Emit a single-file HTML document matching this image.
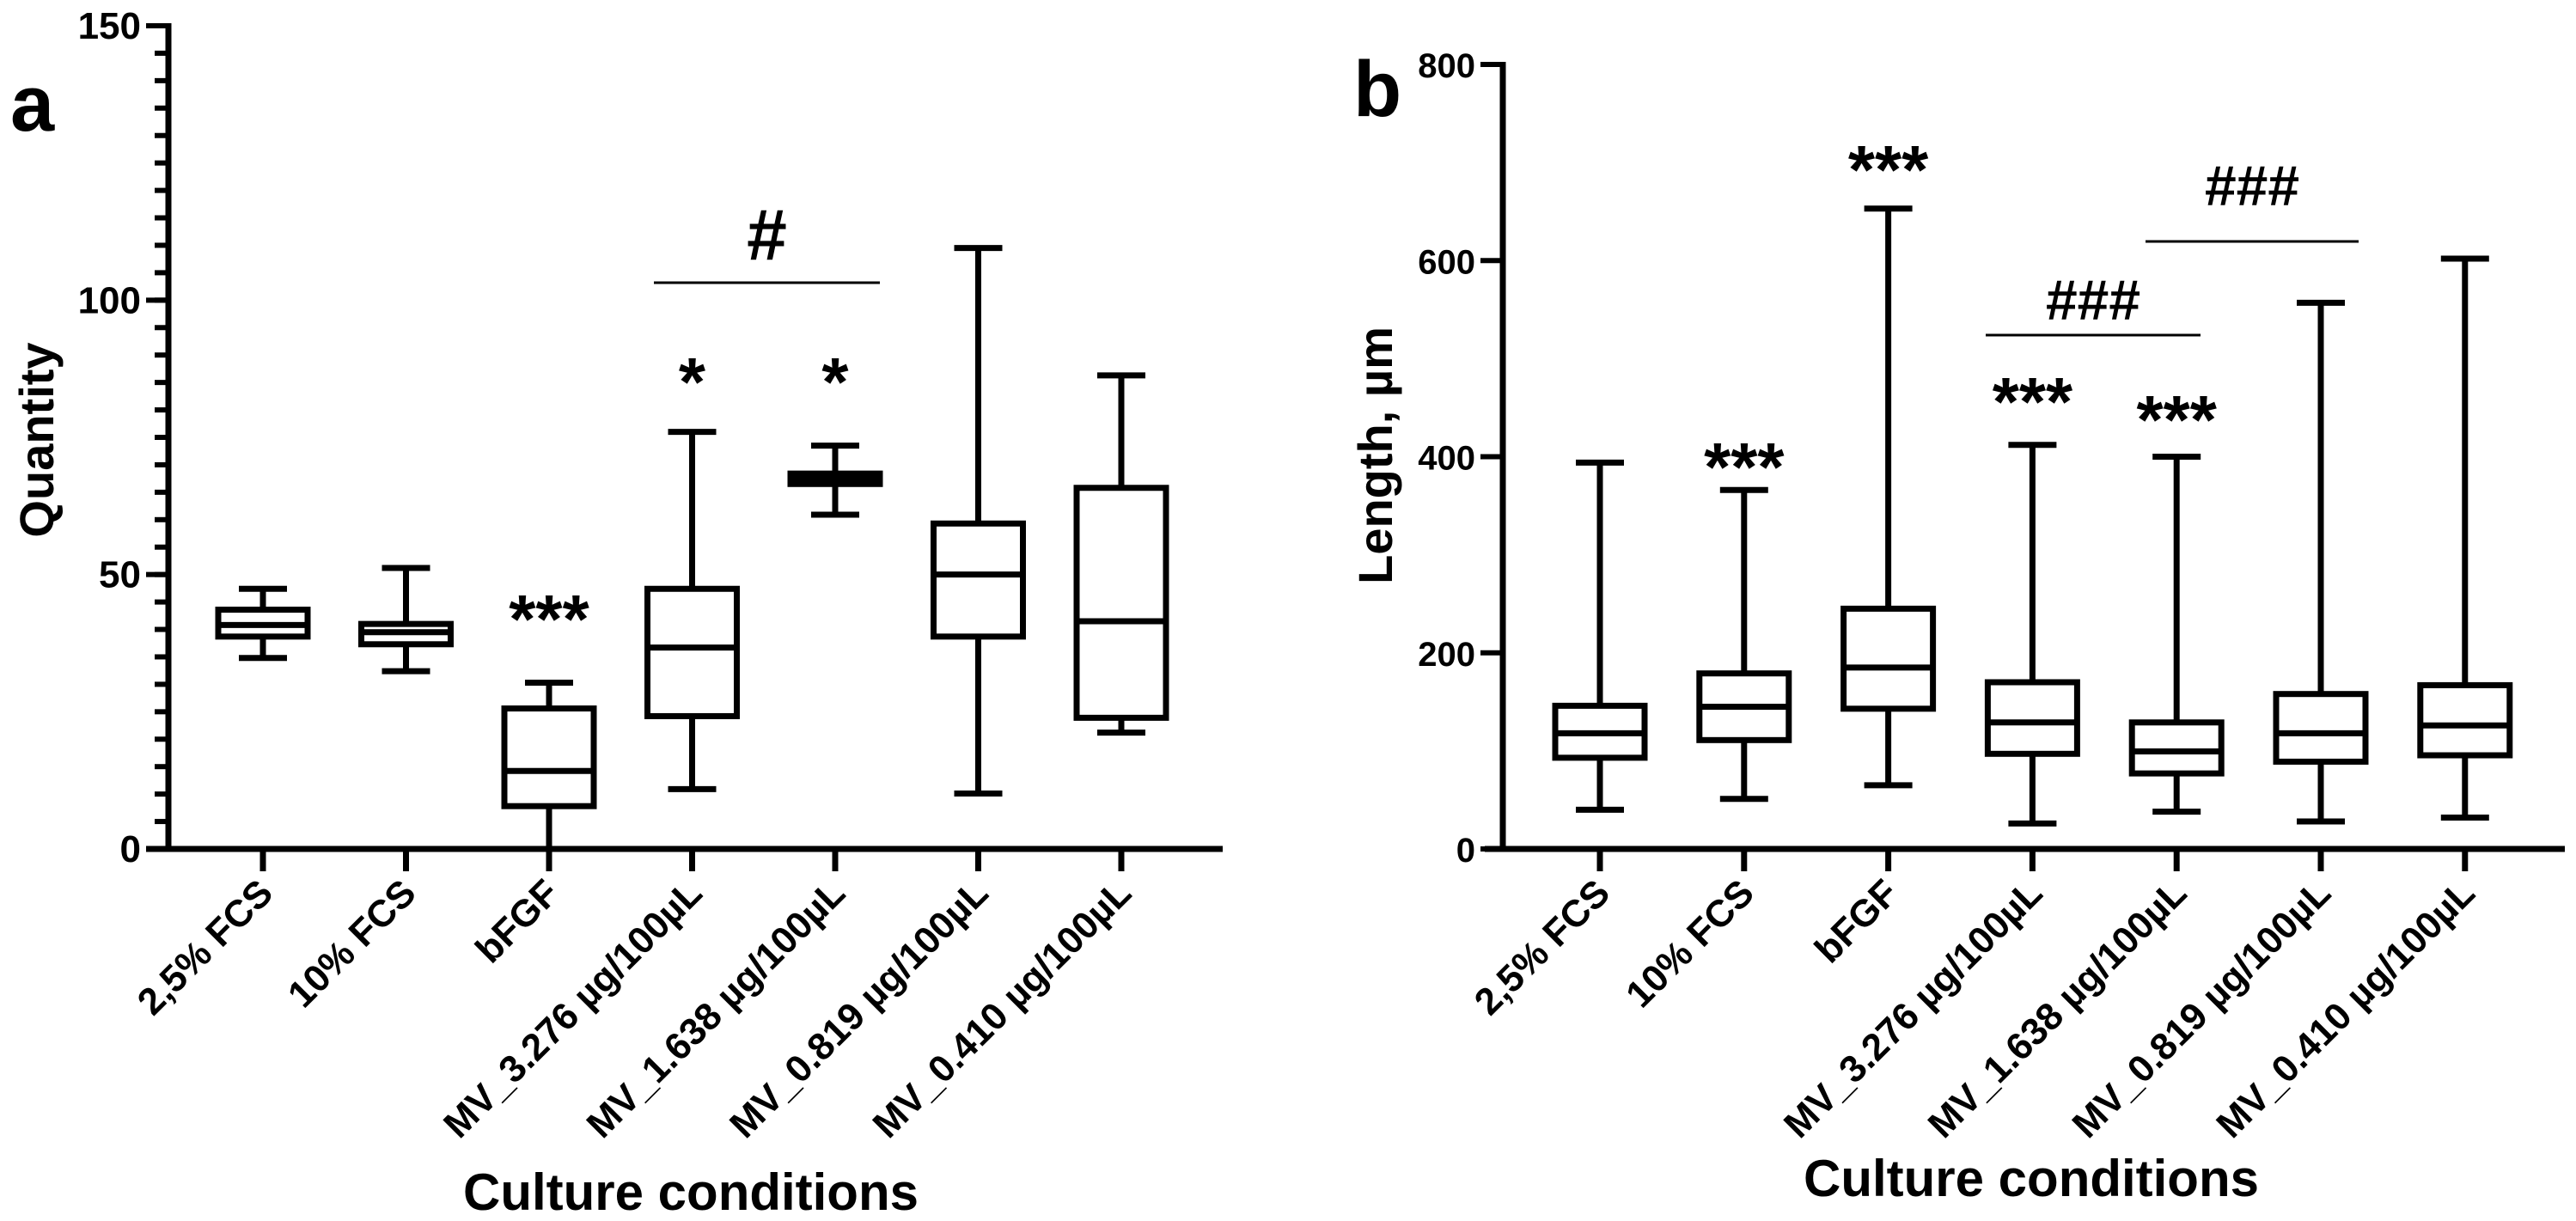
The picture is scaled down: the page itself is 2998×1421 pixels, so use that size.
<!DOCTYPE html>
<html><head><meta charset="utf-8">
<style>
html,body{margin:0;padding:0;background:#fff;}
svg{display:block;font-family:"Liberation Sans",Arial,sans-serif;font-weight:bold;}
</style></head>
<body>
<svg id="chart" width="2998" height="1421" viewBox="0 0 2998 1421" xmlns="http://www.w3.org/2000/svg">
<g id="pa"></g>
<g id="pb"></g>
</svg>
<script>
const categories = ["2,5% FCS","10% FCS","bFGF","MV_3.276 µg/100µL","MV_1.638 µg/100µL","MV_0.819 µg/100µL","MV_0.410 µg/100µL"];
// panel a (Quantity)
const aMin = [34.8, 32.4, 0, 10.9, 60.9, 10.1, 21.2];
const aQ1  = [38.7, 37.3, 7.8, 24.2, 66.5, 38.7, 23.9];
const aMed = [40.8, 39.5, 14.2, 36.7, 67.5, 50, 41.5];
const aQ3  = [43.6, 41, 25.6, 47.4, 68.4, 59.3, 65.8];
const aMax = [47.4, 51.2, 30.3, 76, 73.5, 109.5, 86.3];
const aTicks = [0, 50, 100, 150];
// panel b (Length, µm)
const bMin = [40, 51, 65, 26, 38, 28, 32];
const bQ1  = [93, 111, 143, 97, 77, 89, 95.5];
const bMed = [118, 145, 185, 129, 99.5, 118, 126];
const bQ3  = [146, 179, 245, 170, 129, 158, 167];
const bMax = [394, 366, 653, 412, 400, 557, 602];
const bTicks = [0, 200, 400, 600, 800];

const NS = "http://www.w3.org/2000/svg";
function mk(parent, tag, attrs, text) {
  const e = document.createElementNS(NS, tag);
  for (const k in attrs) e.setAttribute(k, attrs[k]);
  if (text !== undefined) e.textContent = text;
  parent.appendChild(e);
  return e;
}

function drawPanel(g, cfg) {
  const yS = v => cfg.y0 - (v - 0) * (cfg.y0 - cfg.yTop) / cfg.yMax;
  const xS = i => cfg.x0 + i * cfg.dx;
  const SW = 7;
  const ya = mk(g, "line", {x1: cfg.axX, y1: cfg.yTop - 3, x2: cfg.axX, y2: cfg.y0 + 3, stroke: "#000", "stroke-width": 7});
  
  
  const xa = mk(g, "line", {x1: cfg.xAxStart, y1: cfg.y0, x2: cfg.xAxEnd, y2: cfg.y0, stroke: "#000", "stroke-width": 7});
  
  
  if (cfg.minor) {
    for (let v = 0; v <= cfg.yMax; v += cfg.minor) {
      const t = mk(g, "line", {x1: cfg.axX - 16, y1: yS(v), x2: cfg.axX, y2: yS(v), stroke: "#000", "stroke-width": 6});
      
      
    }
  }
  cfg.ticks.forEach(v => {
    const t = mk(g, "line", {x1: cfg.axX - 26, y1: yS(v), x2: cfg.axX, y2: yS(v), stroke: "#000", "stroke-width": 6});
    
    
    const l = mk(g, "text", {x: cfg.axX - 32, y: yS(v) + 15, "text-anchor": "end", "font-size": cfg.tickFont}, String(v));
    
    
  });
  const yt = mk(g, "text", {x: 0, y: 0, "text-anchor": "middle", "font-size": 56,
    transform: `translate(${cfg.yTitleX},${cfg.yTitleY}) rotate(-90)`}, cfg.yTitle);
  
  
  const pl = mk(g, "text", {x: cfg.letterX, y: cfg.letterY, "font-size": 92}, cfg.letter);
  
  
  categories.forEach((c, i) => {
    const x = xS(i);
    const t = mk(g, "line", {x1: x, y1: cfg.y0, x2: x, y2: cfg.y0 + 26, stroke: "#000", "stroke-width": 7});
    
    
    const lx = x + 14, ly = cfg.y0 + 54;
    const l = mk(g, "text", {x: 0, y: 0, "text-anchor": "end", "font-size": 44,
      transform: `translate(${lx},${ly}) rotate(-45)`}, c);
    
    
    const bw = 104, cw = 56;
    const box = mk(g, "g", {});
    
    
    mk(box, "line", {x1: x, y1: yS(cfg.max[i]), x2: x, y2: yS(cfg.q3[i]), stroke: "#000", "stroke-width": SW});
    mk(box, "line", {x1: x, y1: yS(cfg.q1[i]), x2: x, y2: yS(cfg.min[i]), stroke: "#000", "stroke-width": SW});
    mk(box, "line", {x1: x - cw/2, y1: yS(cfg.max[i]), x2: x + cw/2, y2: yS(cfg.max[i]), stroke: "#000", "stroke-width": SW});
    mk(box, "line", {x1: x - cw/2, y1: yS(cfg.min[i]), x2: x + cw/2, y2: yS(cfg.min[i]), stroke: "#000", "stroke-width": SW});
    mk(box, "rect", {x: x - bw/2, y: yS(cfg.q3[i]), width: bw, height: Math.max(0, yS(cfg.q1[i]) - yS(cfg.q3[i])),
      fill: "#fff", stroke: "#000", "stroke-width": SW});
    mk(box, "line", {x1: x - bw/2, y1: yS(cfg.med[i]), x2: x + bw/2, y2: yS(cfg.med[i]), stroke: "#000", "stroke-width": SW});
  });
  const xt = mk(g, "text", {x: cfg.xTitleX, y: cfg.xTitleY, "text-anchor": "middle", "font-size": 60}, "Culture conditions");
  
  
  cfg.stars.forEach(s => {
    const t = mk(g, "text", {x: xS(s[0]), y: s[1] + 46, "text-anchor": "middle", "font-size": 80}, s[2]);
    
    
  });
  cfg.bars.forEach(b => {
    const l = mk(g, "line", {x1: b[0], y1: b[2], x2: b[1], y2: b[2], stroke: "#000", "stroke-width": 3});
    
    
    const t = mk(g, "text", {x: (b[0] + b[1]) / 2, y: b[3] + b[5] * 0.36, "text-anchor": "middle", "font-size": b[5], "font-weight": "bold"}, b[4]);
    
    
  });
}

drawPanel(document.getElementById("pa"), {
  axX: 196, y0: 988, yTop: 30, yMax: 150, minor: 5, ticks: aTicks, tickFont: 44,
  x0: 306, dx: 166.5, xAxStart: 170, xAxEnd: 1423,
  min: aMin, q1: aQ1, med: aMed, q3: aQ3, max: aMax,
  yTitle: "Quantity", yTitleX: 62, yTitleY: 512,
  letter: "a", letterX: 12, letterY: 152,
  xTitleX: 804, xTitleY: 1408,
  stars: [[2, 702, "***"], [3, 426, "*"], [4, 426, "*"]],
  bars: [[761, 1024, 329, 272, "#", 84]]
});
drawPanel(document.getElementById("pb"), {
  axX: 1749, y0: 988, yTop: 75, yMax: 800, minor: 0, ticks: bTicks, tickFont: 40,
  x0: 1862, dx: 167.8, xAxStart: 1728, xAxEnd: 2985,
  min: bMin, q1: bQ1, med: bMed, q3: bQ3, max: bMax,
  yTitle: "Length, µm", yTitleX: 1620, yTitleY: 530,
  letter: "b", letterX: 1575, letterY: 135,
  xTitleX: 2364, xTitleY: 1392,
  stars: [[1, 525, "***"], [2, 179, "***"], [3, 449, "***"], [4, 470, "***"]],
  bars: [[2311, 2561, 390, 348, "###", 66], [2497, 2745, 281, 215, "###", 66]]
});
</script>
</body></html>
